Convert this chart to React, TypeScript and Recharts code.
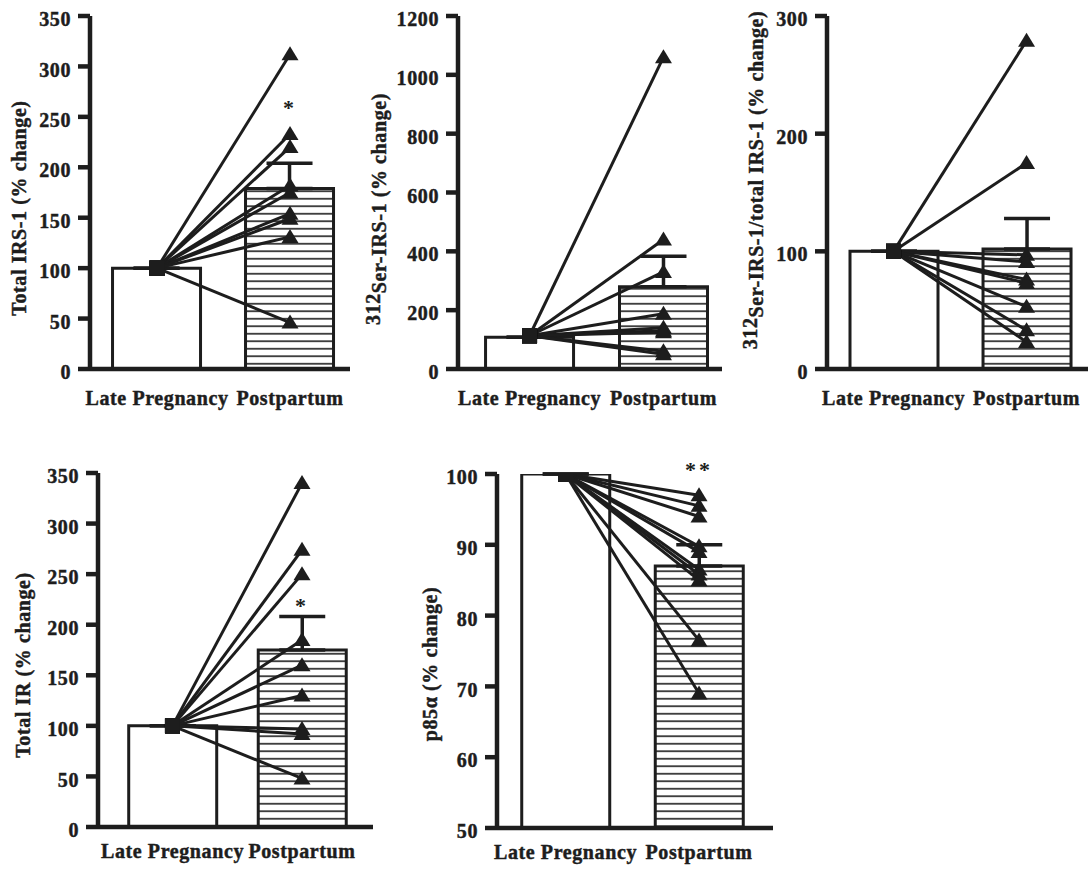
import { ComposedChart, Bar, Line, XAxis, YAxis, ErrorBar, Cell, ReferenceDot } from 'recharts'

const CATEGORIES = ['Late Pregnancy', 'Postpartum']

// Total IRS-1
const IRS1_MEAN = [100, 179]
const IRS1_SEM = [0, 25]
const IRS1_START = 100
const IRS1_POST = [312, 233, 220, 182, 175, 154, 149, 131, 46]
const IRS1_TICKS = [0, 50, 100, 150, 200, 250, 300, 350]

// 312Ser-IRS-1
const SER_MEAN = [108, 280]
const SER_SEM = [0, 103]
const SER_START = 113
const SER_POST = [1060, 440, 330, 188, 140, 130, 125, 60, 50]
const SER_TICKS = [0, 200, 400, 600, 800, 1000, 1200]

// 312Ser-IRS-1 / total IRS-1
const RATIO_MEAN = [100, 102]
const RATIO_SEM = [0, 26]
const RATIO_START = 100
const RATIO_POST = [279, 175, 97, 91, 76, 73, 53, 33, 23]
const RATIO_TICKS = [0, 100, 200, 300]

// Total IR
const IR_MEAN = [100, 175]
const IR_SEM = [0, 33]
const IR_START = 100
const IR_POST = [340, 274, 250, 185, 160, 130, 97, 92, 48]
const IR_TICKS = [0, 50, 100, 150, 200, 250, 300, 350]

// p85 alpha
const P85_MEAN = [100, 87]
const P85_SEM = [0, 3]
const P85_START = 100
const P85_POST = [97, 95.5, 94, 89.8, 89, 86.5, 85.8, 85, 76.5, 69]
const P85_TICKS = [50, 60, 70, 80, 90, 100]

const INK = '#1d1d1d'
const SERIF = '"Liberation Serif", "Times New Roman", serif'
const FONT = {
  fill: INK,
  stroke: INK,
  strokeWidth: 0.45,
  fontSize: 20,
  fontWeight: 'bold',
  fontFamily: SERIF,
  letterSpacing: 0.6,
}

function buildRows(mean, sem, start, post) {
  return CATEGORIES.map((name, i) => {
    const row: any = { x: i, name, mean: mean[i], err: [0, sem[i]] }
    post.forEach((v, j) => {
      row['s' + j] = i === 0 ? start : v
    })
    return row
  })
}

function Marker(props) {
  const { cx, cy, index } = props
  if (cx == null || cy == null) return null
  if (index === 0) {
    return <rect key={`m${index}`} x={cx - 7.5} y={cy - 7.5} width={15} height={15} fill={INK} />
  }
  return (
    <polygon
      key={`m${index}`}
      points={`${cx},${cy - 8} ${cx - 8.5},${cy + 6} ${cx + 8.5},${cy + 6}`}
      fill={INK}
    />
  )
}

const PANELS = [
  {
    id: 'irs1', left: 0, top: 0, width: 360, height: 430,
    yAxisX: 90, plotTop: 16, plotBottom: 369, axisEnd: 350,
    xDomain: [-0.504, 1.451], yDomain: [0, 350], ticks: IRS1_TICKS,
    mean: IRS1_MEAN, sem: IRS1_SEM, start: IRS1_START, post: IRS1_POST,
    label: ['Total IRS-1 (% change)'], labelX: 26, labelY: 208,
    star: '*', starY: 252, xGap: 22,
  },
  {
    id: 'ser', left: 356, top: 0, width: 376, height: 430,
    yAxisX: 458, plotTop: 16, plotBottom: 369, axisEnd: 722,
    xDomain: [-0.534, 1.437], yDomain: [0, 1200], ticks: SER_TICKS,
    mean: SER_MEAN, sem: SER_SEM, start: SER_START, post: SER_POST,
    label: ['312', 'Ser-IRS-1 (% change)'], labelX: 380, labelY: 209,
    star: null, starY: 0, xGap: 22,
  },
  {
    id: 'ratio', left: 732, top: 0, width: 356, height: 430,
    yAxisX: 827, plotTop: 16, plotBottom: 369, axisEnd: 1088,
    xDomain: [-0.5, 1.462], yDomain: [0, 300], ticks: RATIO_TICKS,
    mean: RATIO_MEAN, sem: RATIO_SEM, start: RATIO_START, post: RATIO_POST,
    label: ['312', 'Ser-IRS-1/total IRS-1 (% change)'], labelX: 757, labelY: 180,
    star: null, starY: 0, xGap: 22,
  },
  {
    id: 'ir', left: 0, top: 440, width: 383, height: 432,
    yAxisX: 98, plotTop: 473, plotBottom: 827, axisEnd: 373,
    xDomain: [-0.575, 1.548], yDomain: [0, 350], ticks: IR_TICKS,
    mean: IR_MEAN, sem: IR_SEM, start: IR_START, post: IR_POST,
    label: ['Total IR (% change)'], labelX: 30, labelY: 665,
    star: '*', starY: 212, xGap: 17,
  },
  {
    id: 'p85', left: 405, top: 440, width: 378, height: 432,
    yAxisX: 497, plotTop: 474, plotBottom: 828, axisEnd: 773,
    xDomain: [-0.513, 1.554], yDomain: [50, 100], ticks: P85_TICKS,
    mean: P85_MEAN, sem: P85_SEM, start: P85_START, post: P85_POST,
    label: ['p85\u03b1 (% change)'], labelX: 437, labelY: 664,
    star: '**', starY: 99.6, xGap: 17,
  },
]

function Panel({ cfg }) {
  const rows = buildRows(cfg.mean, cfg.sem, cfg.start, cfg.post)
  const hatch = `hatch-${cfg.id}`
  const lx = cfg.labelX - cfg.left
  const ly = cfg.labelY - cfg.top
  return (
    <div style={{ position: 'absolute', left: cfg.left, top: cfg.top }}>
      <ComposedChart
        width={cfg.width}
        height={cfg.height}
        data={rows}
        margin={{ top: cfg.plotTop - cfg.top, right: cfg.left + cfg.width - cfg.axisEnd, bottom: 0, left: 0 }}
      >
        <defs>
          <pattern id={hatch} patternUnits="userSpaceOnUse" width={8} height={7.5}>
            <rect width={8} height={7.5} fill="#fff" />
            <line x1={0} x2={8} y1={3.75} y2={3.75} stroke={INK} strokeWidth={1.6} />
          </pattern>
        </defs>
        <XAxis
          type="number"
          dataKey="x"
          domain={cfg.xDomain}
          ticks={[0, 1]}
          interval={0}
          allowDataOverflow
          tickFormatter={(i) => CATEGORIES[i]}
          height={cfg.top + cfg.height - cfg.plotBottom}
          tickLine={false}
          tickSize={0}
          tickMargin={cfg.xGap}
          axisLine={{ stroke: INK, strokeWidth: 4.5 }}
          tick={FONT}
        />
        <YAxis
          type="number"
          domain={cfg.yDomain}
          ticks={cfg.ticks}
          interval={0}
          allowDataOverflow
          width={cfg.yAxisX - cfg.left}
          tickSize={12}
          tickMargin={7}
          tickLine={{ stroke: INK, strokeWidth: 4.5 }}
          axisLine={{ stroke: INK, strokeWidth: 4.5 }}
          tick={{ ...FONT, dy: 3 }}
          label={{
            content: () => (
              <text
                x={lx}
                y={ly}
                transform={`rotate(-90 ${lx} ${ly})`}
                textAnchor="middle"
                fill={INK}
                stroke={INK}
                strokeWidth={0.45}
                fontSize={20}
                fontWeight="bold"
                fontFamily={SERIF}
                letterSpacing={0.6}
              >
                <tspan>{cfg.label[0]}</tspan>
                {cfg.label[1] && <tspan dy={6}>{cfg.label[1]}</tspan>}
              </text>
            ),
          }}
        />
        <Bar dataKey="mean" barSize={88} stroke={INK} strokeWidth={3} isAnimationActive={false}>
          {rows.map((_, i) => (
            <Cell key={i} fill={i === 0 ? '#fff' : `url(#${hatch})`} />
          ))}
          <ErrorBar dataKey="err" width={23} stroke={INK} strokeWidth={3.5} direction="y" />
        </Bar>
        {cfg.post.map((_, j) => (
          <Line
            key={j}
            dataKey={'s' + j}
            stroke={INK}
            strokeWidth={3}
            dot={Marker}
            activeDot={false}
            isAnimationActive={false}
          />
        ))}
        {cfg.star && (
          <ReferenceDot
            x={1}
            y={cfg.starY}
            r={0}
            shape={(p) => (
              <text
                x={p.cx}
                y={p.cy}
                textAnchor="middle"
                fill={INK}
                fontSize={22}
                fontWeight="bold"
                fontFamily={SERIF}
                letterSpacing={3}
              >
                {cfg.star}
              </text>
            )}
          />
        )}
      </ComposedChart>
    </div>
  )
}

export default function App() {
  return (
    <div style={{ position: 'relative', width: 1088, height: 872, background: '#fff' }}>
      <style>{'body{margin:0}'}</style>
      {PANELS.map((cfg) => (
        <Panel key={cfg.id} cfg={cfg} />
      ))}
    </div>
  )
}
